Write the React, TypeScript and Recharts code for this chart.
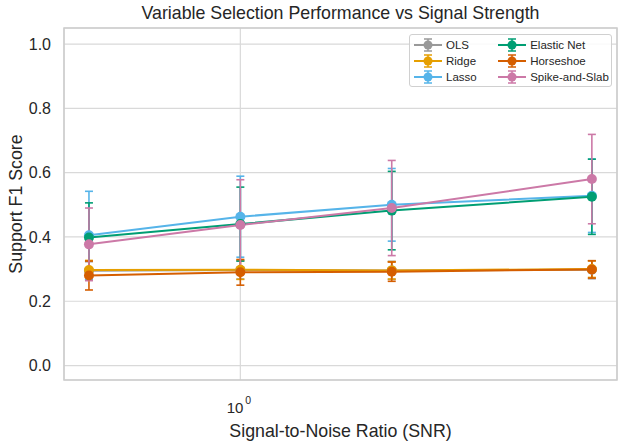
import React from "react";
import {
  LineChart,
  Line,
  XAxis,
  YAxis,
  CartesianGrid,
  ErrorBar,
  Legend,
  ReferenceArea,
} from "recharts";

// signal-to-noise ratios on the x axis
const snr = [0.5, 1, 2, 5];

// mean support F1 and its spread, one pair per method
const olsF1 = [0.295, 0.297, 0.296, 0.298];
const olsErr = [0.028, 0.028, 0.028, 0.028];
const ridgeF1 = [0.297, 0.298, 0.296, 0.3];
const ridgeErr = [0.03, 0.03, 0.027, 0.026];
const lassoF1 = [0.405, 0.463, 0.5, 0.528];
const lassoErr = [0.137, 0.126, 0.113, 0.114];
const enetF1 = [0.398, 0.44, 0.482, 0.525];
const enetErr = [0.108, 0.115, 0.122, 0.117];
const horseF1 = [0.28, 0.29, 0.292, 0.299];
const horseErr = [0.045, 0.04, 0.03, 0.027];
const spikeF1 = [0.377, 0.437, 0.49, 0.58];
const spikeErr = [0.113, 0.141, 0.148, 0.139];

const yTicks = [0, 0.2, 0.4, 0.6, 0.8, 1.0];
const xTicks = [1];

const series = [
  { key: "ols", name: "OLS", color: "#999999", values: olsF1, errs: olsErr },
  { key: "ridge", name: "Ridge", color: "#E69F00", values: ridgeF1, errs: ridgeErr },
  { key: "lasso", name: "Lasso", color: "#56B4E9", values: lassoF1, errs: lassoErr },
  { key: "enet", name: "Elastic Net", color: "#009E73", values: enetF1, errs: enetErr },
  { key: "horse", name: "Horseshoe", color: "#D55E00", values: horseF1, errs: horseErr },
  { key: "spike", name: "Spike-and-Slab", color: "#CC79A7", values: spikeF1, errs: spikeErr },
];

const data = snr.map((s, i) => {
  const row: { [key: string]: number } = { snr: s };
  series.forEach((srs) => {
    row[srs.key] = srs.values[i];
    row[srs.key + "Err"] = srs.errs[i];
  });
  return row;
});

const FONT = '"Liberation Sans", Arial, sans-serif';
const TEXT = "#262626";

// 10^k style labels for the log axis
const LogTick = ({ x, y, payload }: any) => {
  const exp = Math.round(Math.log10(payload.value));
  return (
    <g>
      <text x={x + 3} y={y + 33} textAnchor="end" fontSize={15} fill={TEXT} fontFamily={FONT}>
        10
      </text>
      <text x={x + 5} y={y + 24} textAnchor="start" fontSize={10.5} fill={TEXT} fontFamily={FONT}>
        {exp}
      </text>
    </g>
  );
};

const LegendIcon = ({ color }: { color: string }) => (
  <svg width={30} height={14} style={{ display: "block" }}>
    <line x1={1} y1={7} x2={29} y2={7} stroke={color} strokeWidth={2} />
    <line x1={15} y1={1} x2={15} y2={13} stroke={color} strokeWidth={1.5} />
    <line x1={11} y1={1} x2={19} y2={1} stroke={color} strokeWidth={1.5} />
    <line x1={11} y1={13} x2={19} y2={13} stroke={color} strokeWidth={1.5} />
    <circle cx={15} cy={7} r={4.5} fill={color} />
  </svg>
);

const MethodLegend = () => {
  const cols = [series.slice(0, 3), series.slice(3)];
  return (
    <div
      style={{
        width: 203,
        height: 53,
        boxSizing: "border-box",
        border: "1px solid #d0d0d0",
        borderRadius: 3,
        background: "rgba(255,255,255,0.85)",
        display: "flex",
        padding: "2px 0 0 3px",
        fontFamily: FONT,
        fontSize: 11.5,
        color: TEXT,
      }}
    >
      {cols.map((col, ci) => (
        <div key={ci} style={{ width: ci === 0 ? 85 : 115 }}>
          {col.map((s) => (
            <div key={s.key} style={{ display: "flex", alignItems: "center", height: 16 }}>
              <LegendIcon color={s.color} />
              <span style={{ marginLeft: 3 }}>{s.name}</span>
            </div>
          ))}
        </div>
      ))}
    </div>
  );
};

export default function App() {
  return (
    <div
      style={{
        position: "absolute",
        left: 0,
        top: 0,
        width: 625,
        height: 446,
        background: "#fff",
        fontFamily: FONT,
      }}
    >
      <div
        style={{
          position: "absolute",
          top: 2,
          left: 64,
          width: 553,
          textAlign: "center",
          fontSize: 17.8,
          color: TEXT,
          lineHeight: "22px",
        }}
      >
        Variable Selection Performance vs Signal Strength
      </div>
      <div
        style={{
          position: "absolute",
          left: 16,
          top: 204,
          transform: "translate(-50%, -50%) rotate(-90deg)",
          fontSize: 17.8,
          color: TEXT,
          whiteSpace: "nowrap",
        }}
      >
        Support F1 Score
      </div>
      <div
        style={{
          position: "absolute",
          top: 420,
          left: 64,
          width: 553,
          textAlign: "center",
          fontSize: 17.8,
          color: TEXT,
          lineHeight: "22px",
        }}
      >
        Signal-to-Noise Ratio (SNR)
      </div>
      <LineChart
        width={625}
        height={446}
        data={data}
        margin={{ top: 28, right: 8, left: 0, bottom: 0 }}
      >
        <CartesianGrid stroke="#d9d9d9" strokeWidth={1.2} />
        <XAxis
          dataKey="snr"
          type="number"
          scale="log"
          domain={[0.446, 5.61]}
          allowDataOverflow
          ticks={xTicks}
          tick={<LogTick />}
          tickLine={false}
          axisLine={false}
          tickSize={0}
          tickMargin={0}
          height={66}
        />
        <YAxis
          type="number"
          domain={[-0.045, 1.05]}
          allowDataOverflow
          ticks={yTicks}
          tickFormatter={(v: number) => v.toFixed(1)}
          tick={{ fontSize: 16, fill: TEXT, fontFamily: FONT }}
          tickLine={false}
          axisLine={false}
          tickSize={0}
          tickMargin={13}
          width={64}
        />
        <ReferenceArea
          x1={0.446}
          x2={5.61}
          y1={-0.045}
          y2={1.05}
          fill="none"
          stroke="#cccccc"
          strokeWidth={1.5}
          ifOverflow="visible"
        />
        {series.map((s) => (
          <Line
            key={s.key}
            dataKey={s.key}
            name={s.name}
            type="linear"
            stroke={s.color}
            strokeWidth={2}
            dot={{ r: 5, fill: s.color, stroke: s.color, strokeWidth: 0 }}
            activeDot={false}
            isAnimationActive={false}
          >
            <ErrorBar
              dataKey={s.key + "Err"}
              direction="y"
              width={4}
              stroke={s.color}
              strokeWidth={1.6}
            />
          </Line>
        ))}
        <Legend
          layout="vertical"
          align="center"
          verticalAlign="middle"
          wrapperStyle={{ top: 34, left: 409, width: 203 }}
          content={() => <MethodLegend />}
        />
      </LineChart>
    </div>
  );
}
